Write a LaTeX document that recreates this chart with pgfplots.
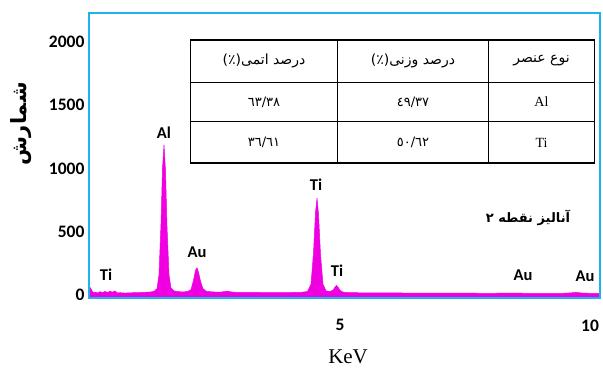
\documentclass[border=0pt]{standalone}
\usepackage{pgfplots}
\pgfplotsset{compat=1.18}
\usepackage{fontspec}
\setmainfont{Liberation Serif}
\newfontfamily\carlito{Carlito}
\newfontfamily\arabicfont[Script=Arabic]{DejaVu Sans}
\TeXXeTstate=1
\definecolor{axcyan}{RGB}{30,180,235}
\definecolor{spec}{RGB}{240,0,225}
\begin{document}
\begin{tikzpicture}
\begin{axis}[
 scale only axis, width=511pt, height=285pt,
 xmin=-0.02, xmax=10.2, ymin=-24, ymax=2227,
 xtick={5,10}, ytick={0,500,1000,1500,2000},
 major tick length=0pt,
 axis line style={axcyan, line width=2.5pt},
 axis on top, clip=false,
 tick label style={font=\carlito\bfseries\fontsize{17.5}{17.5}\selectfont},
 /pgf/number format/assume math mode=true,
 /pgf/number format/set thousands separator={},
 xticklabel style={yshift=-18pt},
 yticklabel style={xshift=-1pt},
]
\addplot[draw=spec, fill=spec, line width=0.5pt] table {
x y
-0.02 -24
0.00 60
0.03 40
0.06 18
0.10 22
0.15 16
0.20 26
0.25 18
0.30 28
0.35 20
0.40 30
0.45 22
0.50 32
0.55 16
0.60 18
0.70 15
0.80 17
0.90 18
1.00 19
1.10 21
1.20 23
1.28 28
1.34 50
1.38 160
1.42 560
1.45 1000
1.48 1185
1.51 980
1.54 540
1.58 160
1.62 55
1.68 32
1.75 27
1.85 24
1.95 27
2.02 42
2.07 115
2.11 195
2.14 215
2.17 180
2.21 110
2.26 50
2.32 30
2.45 24
2.60 22
2.75 30
2.85 22
3.00 20
3.30 20
3.60 18
3.90 19
4.20 20
4.35 27
4.42 85
4.47 330
4.51 650
4.54 765
4.57 640
4.61 320
4.66 85
4.72 32
4.80 27
4.86 38
4.90 62
4.93 74
4.96 62
5.00 37
5.06 22
5.20 18
5.50 17
6.00 16
6.50 15
7.00 14
7.50 14
8.00 13
8.50 15
8.70 13
9.00 12
9.40 12
9.60 16
9.72 20
9.85 15
10.00 13
10.20 12
10.20 -24
};
% peak labels
\begin{scope}[every node/.style={font=\carlito\bfseries\fontsize{16.5}{16.5}\selectfont, inner sep=0pt}]
\node at (axis cs:0.32,158) {Ti};
\node at (axis cs:1.48,1280) {Al};
\node at (axis cs:2.14,340) {Au};
\node at (axis cs:4.52,869) {Ti};
\node at (axis cs:4.94,190) {Ti};
\node at (axis cs:8.66,158) {Au};
\node at (axis cs:9.90,150) {Au};
\end{scope}
% title
\node[font=\arabicfont\bfseries\fontsize{13}{13}\selectfont] at (axis cs:8.76,608) {\beginR آنالیز نقطه ۲\endR};
% table
\fill[white] (rel axis cs:0.198,0.905) rectangle (rel axis cs:0.990,0.474);
\draw[black, line width=0.8pt] (rel axis cs:0.487,0.905) -- (rel axis cs:0.487,0.474);
\draw[black, line width=0.8pt] (rel axis cs:0.781,0.905) -- (rel axis cs:0.781,0.474);
\draw[black, line width=0.8pt] (rel axis cs:0.198,0.758) -- (rel axis cs:0.990,0.758);
\draw[black, line width=0.8pt] (rel axis cs:0.198,0.618) -- (rel axis cs:0.990,0.618);
\draw[black, line width=1.2pt] (rel axis cs:0.198,0.905) rectangle (rel axis cs:0.990,0.474);
\begin{scope}[every node/.style={font=\arabicfont\fontsize{14}{14}\selectfont}]
\node at (rel axis cs:0.3425,0.8315) {\beginR درصد اتمی(٪)\endR};
\node at (rel axis cs:0.634,0.8315) {\beginR درصد وزنی(٪)\endR};
\node at (rel axis cs:0.8855,0.8315) {\beginR نوع عنصر\endR};
\end{scope}
\begin{scope}[every node/.style={font=\arabicfont\fontsize{13}{13}\selectfont}]
\node at (rel axis cs:0.3425,0.688) {٦٣/٣٨};
\node at (rel axis cs:0.634,0.688) {٤٩/٣٧};
\node at (rel axis cs:0.3425,0.546) {٣٦/٦١};
\node at (rel axis cs:0.634,0.546) {٥٠/٦٢};
\end{scope}
\node[font=\fontsize{14}{14}\selectfont] at (rel axis cs:0.8855,0.688) {Al};
\node[font=\fontsize{14}{14}\selectfont] at (rel axis cs:0.8855,0.546) {Ti};
% axis labels
\node[rotate=90, font=\arabicfont\bfseries\fontsize{21}{21}\selectfont, inner sep=0pt] at ([xshift=-68pt]rel axis cs:0,0.61) {\beginR شمارش\endR};
\node[font=\fontsize{21}{21}\selectfont] at ([yshift=-59pt]rel axis cs:0.507,0) {KeV};
\end{axis}
\pgfresetboundingbox
\path ([shift={(-89pt,-72pt)}]current axis.south west) rectangle ([shift={(3pt,13pt)}]current axis.north east);
\end{tikzpicture}
\end{document}
